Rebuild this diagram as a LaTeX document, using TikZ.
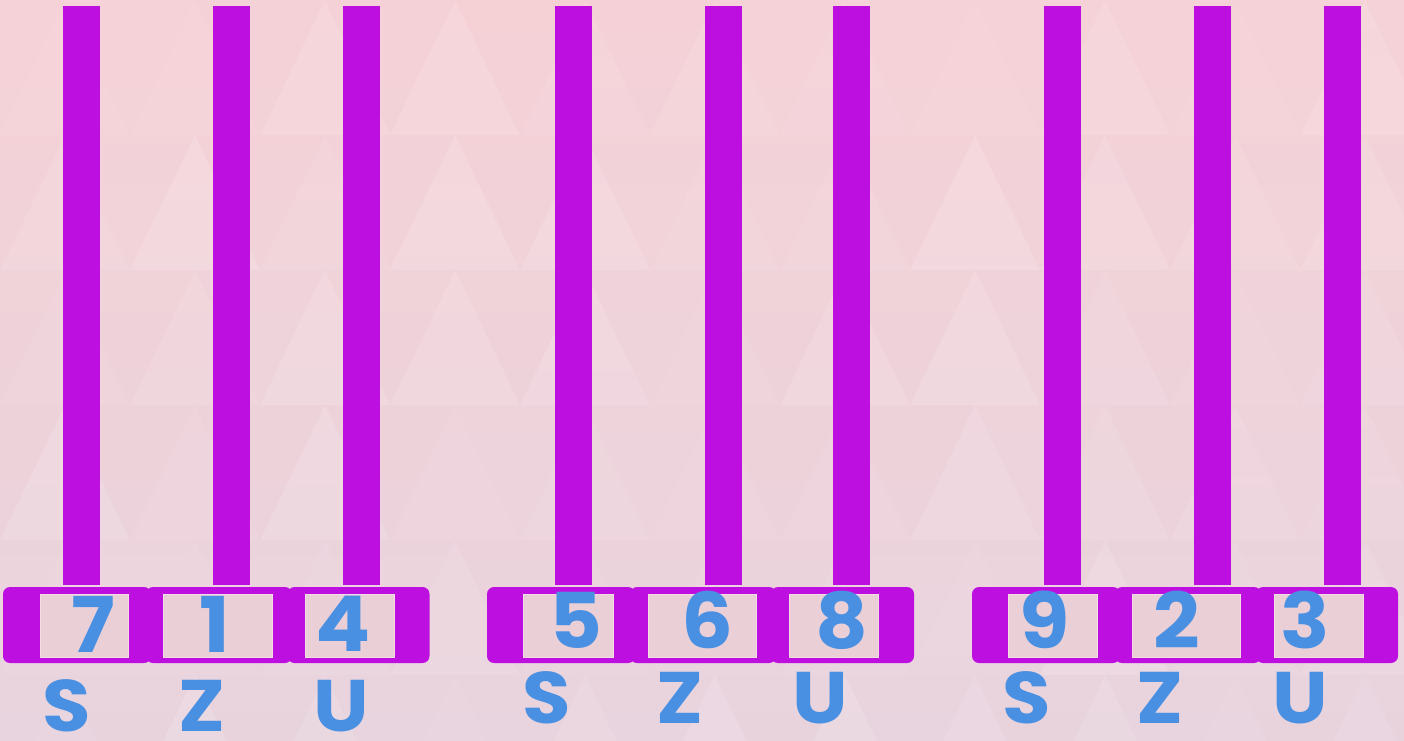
\documentclass[tikz,border=0pt]{standalone}
\usepackage{fontspec}
\setmainfont{Poppins}
\definecolor{rodpurple}{HTML}{BD10E0}
\definecolor{numblue}{HTML}{4A90E2}
\definecolor{bgtop}{HTML}{F6D3D8}
\definecolor{bgbottom}{HTML}{E9D5DF}
\definecolor{bgdark}{HTML}{E4B8C2}
\definecolor{winfill}{HTML}{EACFD7}
\definecolor{winedge}{HTML}{F3DDE5}
\begin{document}
\begin{tikzpicture}[x=1pt,y=-1pt,
    rod/.style={draw=rodpurple,line width=37pt},
    box/.style={rectangle,rounded corners=7pt,fill=rodpurple,minimum height=76pt,inner sep=0pt},
    window/.style={rectangle,fill=winfill,draw=winedge,line width=1pt,minimum height=63pt,inner sep=0pt},
    digit/.style={inner sep=0pt,text=numblue,xscale=1.06,font=\fontsize{77}{77}\selectfont\bfseries},
    place/.style={inner sep=0pt,text=numblue,xscale=1.08,font=\fontsize{73}{73}\selectfont\bfseries}]

\useasboundingbox (0,0) rectangle (1404,740);

% Background
\shade[top color=bgtop,bottom color=bgbottom] (0,0) rectangle (1404,740);
\begin{scope}
\clip (0,0) rectangle (1404,740);
\pgfmathsetseed{7}
\foreach \r in {0,...,5}{
  \foreach \c in {-1,...,11}{
    \pgfmathsetmacro{\opa}{0.12*rnd}
    \fill[white,opacity=\opa] (\c*130,\r*135+135) -- (\c*130+65,\r*135) -- (\c*130+130,\r*135+135) -- cycle;
    \pgfmathsetmacro{\opb}{0.07*rnd}
    \fill[bgdark,opacity=\opb] (\c*130+65,\r*135) -- (\c*130+195,\r*135) -- (\c*130+130,\r*135+135) -- cycle;
  }
}
\end{scope}

%========================
% Group 1 (7 1 4)
%========================

% Rods
\coordinate (top11) at (81,6);    \coordinate (bot11) at (81,585);
\coordinate (top12) at (231,6);   \coordinate (bot12) at (231,585);
\coordinate (top13) at (361,6);   \coordinate (bot13) at (361,585);
\draw[rod] (top11)--(bot11);
\draw[rod] (top12)--(bot12);
\draw[rod] (top13)--(bot13);

% Frame
\node[box,minimum width=148pt] (b11) at (77,625) {};
\node[box,minimum width=146pt] (b12) at (219,625) {};
\node[box,minimum width=142pt] (b13) at (358.5,625) {};

% Windows
\node[window,minimum width=88pt] (w11) at (84,625.5) {};
\node[window,minimum width=109pt] (w12) at (217.5,625.5) {};
\node[window,minimum width=89pt] (w13) at (349.5,625.5) {};

% Digits
\node[digit] (d11) at (93,624) {7};
\node[digit] (d12) at (215,624) {1};
\node[digit] (d13) at (343,624) {4};

% Place labels
\node[place] (l11) at (67,706) {S};
\node[place] (l12) at (202,706) {Z};
\node[place] (l13) at (341,706) {U};

%========================
% Group 2 (5 6 8)
%========================

% Rods
\coordinate (top21) at (573.5,6); \coordinate (bot21) at (573.5,585);
\coordinate (top22) at (723,6);   \coordinate (bot22) at (723,585);
\coordinate (top23) at (851.5,6); \coordinate (bot23) at (851.5,585);
\draw[rod] (top21)--(bot21);
\draw[rod] (top22)--(bot22);
\draw[rod] (top23)--(bot23);

% Frame
\node[box,minimum width=148pt] (b21) at (561,625) {};
\node[box,minimum width=146pt] (b22) at (703,625) {};
\node[box,minimum width=143pt] (b23) at (842.5,625) {};

% Windows
\node[window,minimum width=90pt] (w21) at (568,625.5) {};
\node[window,minimum width=108pt] (w22) at (702,625.5) {};
\node[window,minimum width=89pt] (w23) at (833.5,625.5) {};

% Digits
\node[digit] (d21) at (576,620) {5};
\node[digit] (d22) at (707,620) {6};
\node[digit] (d23) at (842,620) {8};

% Place labels
\node[place] (l21) at (547,698) {S};
\node[place] (l22) at (680,698) {Z};
\node[place] (l23) at (820,698) {U};

%========================
% Group 3 (9 2 3)
%========================

% Rods
\coordinate (top31) at (1062,6);  \coordinate (bot31) at (1062,585);
\coordinate (top32) at (1212,6);  \coordinate (bot32) at (1212,585);
\coordinate (top33) at (1342,6);  \coordinate (bot33) at (1342,585);
\draw[rod] (top31)--(bot31);
\draw[rod] (top32)--(bot32);
\draw[rod] (top33)--(bot33);

% Frame
\node[box,minimum width=148pt] (b31) at (1046,625) {};
\node[box,minimum width=146pt] (b32) at (1188,625) {};
\node[box,minimum width=142pt] (b33) at (1327,625) {};

% Windows
\node[window,minimum width=89pt] (w31) at (1052.5,625.5) {};
\node[window,minimum width=108pt] (w32) at (1186,625.5) {};
\node[window,minimum width=89pt] (w33) at (1318.5,625.5) {};

% Digits
\node[digit] (d31) at (1044.5,620) {9};
\node[digit] (d32) at (1177,620) {2};
\node[digit] (d33) at (1305,620) {3};

% Place labels
\node[place] (l31) at (1027,698) {S};
\node[place] (l32) at (1160,698) {Z};
\node[place] (l33) at (1300,698) {U};

\end{tikzpicture}
\end{document}
